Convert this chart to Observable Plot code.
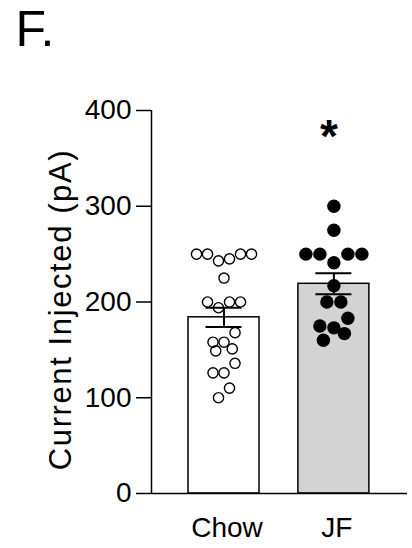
<!DOCTYPE html>
<html>
<head>
<meta charset="utf-8">
<script src="https://cdn.jsdelivr.net/npm/d3@7"></script>
<script src="https://cdn.jsdelivr.net/npm/@observablehq/plot@0.6"></script>
<style>
  body { margin: 0; background: #fff; font-family: "Liberation Sans", Arial, sans-serif; }
</style>
</head>
<body>
<div id="chart"></div>
<script>
// Diet groups and the individual cell recordings (rheobase current, pA)
const groups = ["Chow", "JF"];
const chowValues = [250, 250, 250, 250, 245, 243, 225, 200, 200, 200, 194, 168, 158, 158, 151, 149, 136, 126, 126, 110, 100];
const jfValues = [300, 275, 250, 250, 250, 250, 241, 217, 200, 200, 183, 175, 173, 167, 160];
// Group mean and SEM
const groupMeans = [184, 219];
const groupSems = [10, 11];
const yTicks = [0, 100, 200, 300, 400];
const yLabel = "Current Injected (pA)";
const panelLabel = "F.";
const significance = ["", "*"];

// Layout
const W = 412, H = 548;
const mt = 110, mb = 55, ml = 151, mr = 5;
const xDomain = [-0.66, 1.67];
const yDomain = [0, 400];
const kx = (W - ml - mr) / (xDomain[1] - xDomain[0]); // px per group unit
const ky = (H - mt - mb) / (yDomain[1] - yDomain[0]); // px per pA
const barHalf = 35.5 / kx;
const capHalf = 18 / kx;

// Scatter-dot layout: values within one symbol height form a row; each row is
// spread symmetrically (lowest values nearest the centre) and widened if it
// collides with the rows already placed.
function swarm(values, d) {
  const sorted = values.map((v, k) => ({v, k})).sort((a, b) => b.v - a.v);
  const rows = [];
  for (const p of sorted) {
    const row = rows[rows.length - 1];
    if (row && (row[0].v - p.v) * ky < d * 0.9) row.push(p); else rows.push([p]);
  }
  const placed = [];
  for (const row of rows) {
    const byValue = [...row].sort((a, b) => a.v - b.v);
    let spread = 1, trial;
    while (true) {
      const n = row.length;
      const slots = d3.range(n).map(k => (k - (n - 1) / 2) * d * spread)
        .sort((a, b) => Math.abs(a) - Math.abs(b) || a - b);
      trial = byValue.map((p, k) => ({v: p.v, off: slots[k]}));
      const hit = trial.some(t => placed.some(q =>
        Math.hypot(t.off - q.off, (t.v - q.v) * ky) < d * 0.8));
      if (!hit || spread >= 3) break;
      spread += 0.5;
    }
    placed.push(...trial);
  }
  return placed;
}

const summary = groups.map((g, i) => ({g, i, mean: groupMeans[i], sem: groupSems[i]}));
const chowPts = swarm(chowValues, 11).map(p => ({...p, i: 0}));
const jfPts = swarm(jfValues, 14).map(p => ({...p, i: 1}));

const chart = Plot.plot({
  width: W,
  height: H,
  marginTop: mt,
  marginBottom: mb,
  marginLeft: ml,
  marginRight: mr,
  x: {domain: xDomain, axis: null},
  y: {domain: yDomain, axis: null},
  style: {fontFamily: "'Liberation Sans', Arial, sans-serif", color: "#000", background: "#fff"},
  marks: [
    // panel letter in the top-left corner
    Plot.text([panelLabel], {
      text: d => d, frameAnchor: "top-left", textAnchor: "start", lineAnchor: "bottom",
      dx: 15 - ml, dy: 45.5 - mt, fontSize: 50
    }),
    Plot.rectY(summary, {
      x1: d => d.i - barHalf, x2: d => d.i + barHalf, y1: 0, y2: "mean",
      fill: d => (d.i ? "#d3d3d3" : "#ffffff"), stroke: "#000", strokeWidth: 1.5
    }),
    Plot.ruleY([0], {stroke: "#000", strokeWidth: 1.5}),
    Plot.ruleX([xDomain[0]], {y1: yDomain[0], y2: yDomain[1], stroke: "#000", strokeWidth: 1.5}),
    Plot.axisY({ticks: yTicks, tickSize: 15, tickPadding: 5, fontSize: 28, strokeWidth: 1.5, label: null, tickFormat: d => String(d)}),
    Plot.axisX({ticks: [0, 1], tickFormat: i => groups[i], tickSize: 0, tickPadding: 24, fontSize: 28, dx: 3, label: null}),
    Plot.text([yLabel], {
      text: d => d, frameAnchor: "left", rotate: -90, textAnchor: "middle",
      lineAnchor: "bottom", dx: -81, dy: 7.5, fontSize: 31
    }),
    Plot.dot(chowPts, {x: d => d.i + d.off / kx, y: "v", r: 5.1, fill: "none", stroke: "#000", strokeWidth: 1.4}),
    Plot.dot(jfPts, {x: d => d.i + d.off / kx, y: "v", r: 6.7, fill: "#000", stroke: "none"}),
    // error bars: stem and caps
    Plot.ruleX(summary, {x: "i", y1: d => d.mean - d.sem, y2: d => d.mean + d.sem, stroke: "#000", strokeWidth: 2}),
    Plot.ruleY(summary, {y: d => d.mean + d.sem, x1: d => d.i - capHalf, x2: d => d.i + capHalf, stroke: "#000", strokeWidth: 2}),
    Plot.ruleY(summary, {y: d => d.mean - d.sem, x1: d => d.i - capHalf, x2: d => d.i + capHalf, stroke: "#000", strokeWidth: 2}),
    Plot.text(summary.filter(d => significance[d.i]), {
      x: "i", text: d => significance[d.i], frameAnchor: "top", lineAnchor: "bottom",
      dy: 41, dx: -5, fontSize: 46, fontWeight: "bold"
    })
  ]
});

for (const t of chart.querySelectorAll("text")) {
  if (t.textContent === yLabel) t.style.letterSpacing = "1.6px";
}
document.getElementById("chart").appendChild(chart);
</script>
</body>
</html>
